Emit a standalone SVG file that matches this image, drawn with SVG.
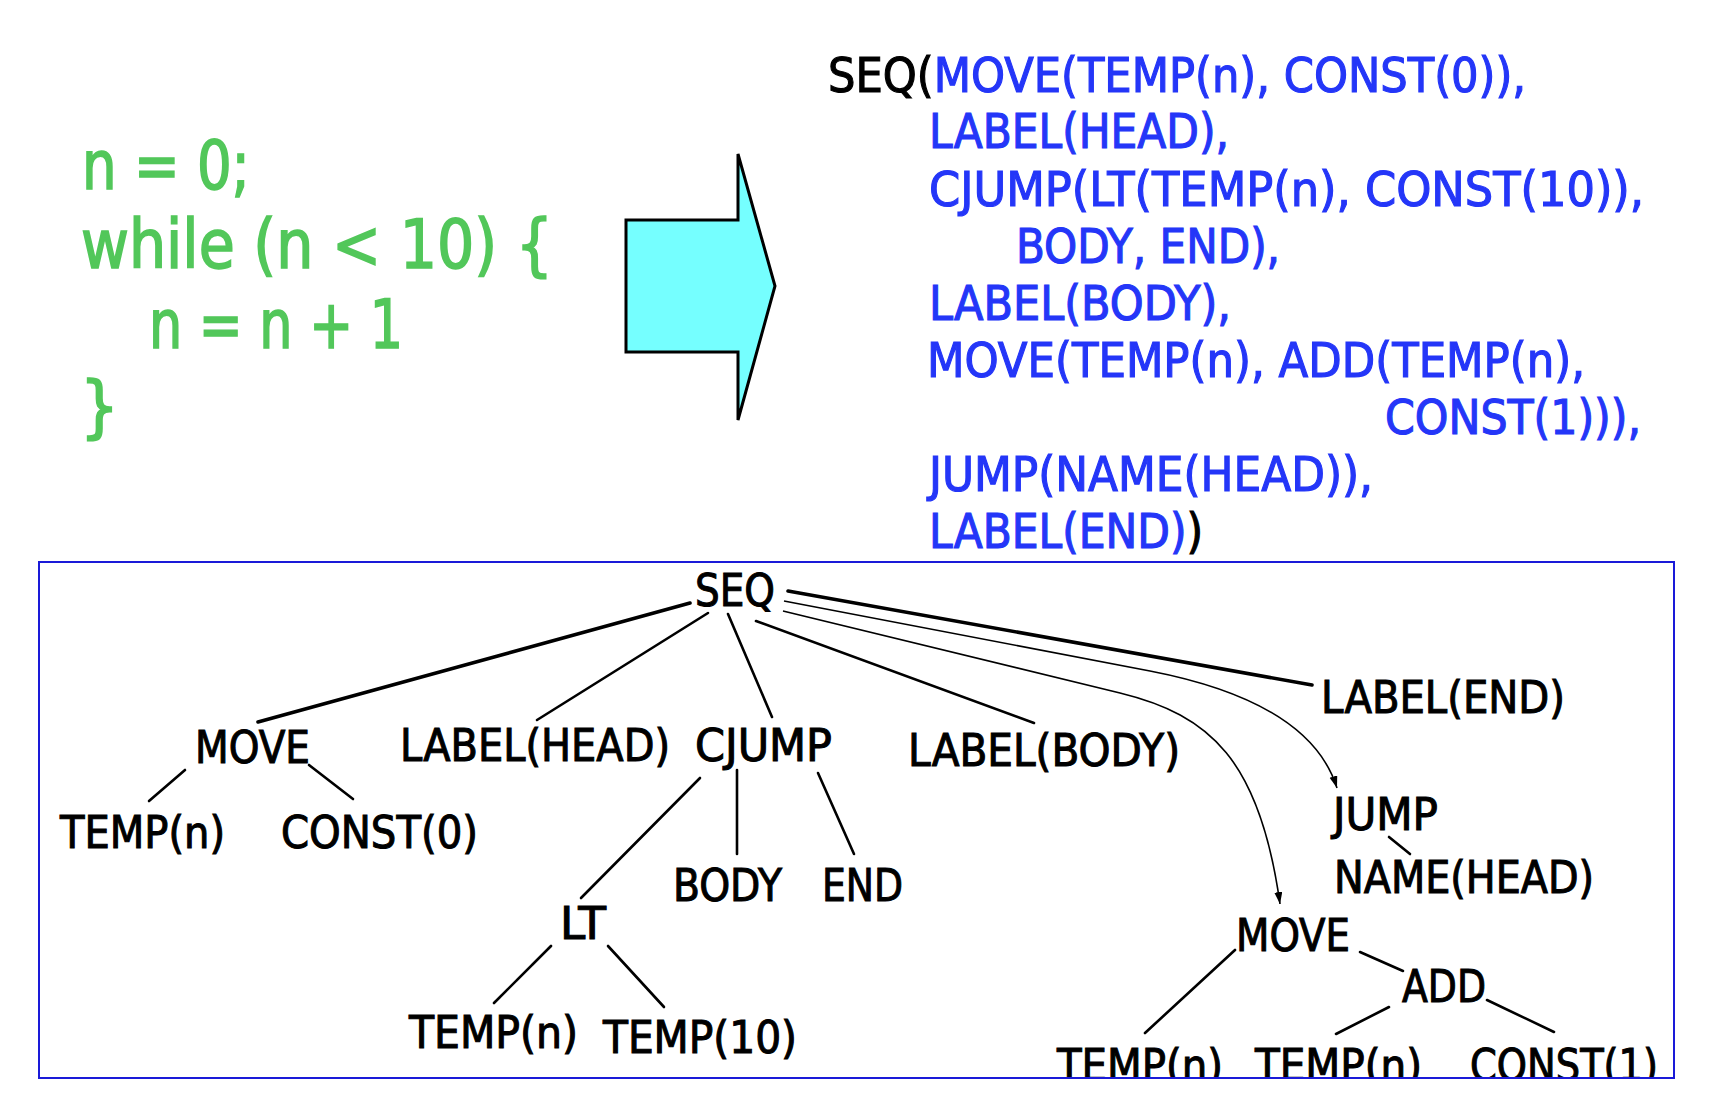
<svg xmlns="http://www.w3.org/2000/svg" width="1729" height="1115" viewBox="0 0 1729 1115">
<style>
text{font-family:"DejaVu Sans Condensed","DejaVu Sans","Liberation Sans",sans-serif;font-stretch:condensed;}
.code{fill:#52c75a;stroke:#52c75a;stroke-width:1.6;font-size:68px;}
.ir{fill:#2436f8;stroke:#2436f8;stroke-width:1.1;font-size:48px;}
.irk{fill:#000;stroke:#000;}
.t{fill:#000;stroke:#000;stroke-width:1;font-size:45px;}
.e{stroke:#000;stroke-width:2.6;fill:none;stroke-linecap:round;}
.ek{stroke-width:3.6;}
.ec{stroke:#000;stroke-width:1.6;fill:none;}
</style>
<defs>
<marker id="ah" markerUnits="userSpaceOnUse" markerWidth="14" markerHeight="10" refX="12" refY="4" orient="auto">
<path d="M0,0 L12,4 L0,8 z" fill="#000"/>
</marker>
<clipPath id="boxclip"><rect x="39" y="562" width="1635" height="515"/></clipPath>
</defs>
<rect width="1729" height="1115" fill="#fff"/>

<g id="source-code">
<text class="code" x="82" y="189" textLength="168" lengthAdjust="spacingAndGlyphs">n = 0;</text>
<text class="code" x="81" y="268" textLength="472" lengthAdjust="spacingAndGlyphs">while (n &lt; 10) {</text>
<text class="code" x="149" y="348" textLength="254" lengthAdjust="spacingAndGlyphs">n = n + 1</text>
<text class="code" x="80" y="430">}</text>
</g>

<g id="big-arrow">
<polygon points="626,220 738,220 738,154 775,286 738,420 738,352 626,352" fill="#75ffff" stroke="#000" stroke-width="3" stroke-linejoin="miter"/>
</g>

<g id="ir-code">
<text class="ir" x="828" y="92" textLength="698" lengthAdjust="spacingAndGlyphs"><tspan class="irk">SEQ(</tspan>MOVE(TEMP(n), CONST(0)),</text>
<text class="ir" x="929" y="148" textLength="300" lengthAdjust="spacingAndGlyphs">LABEL(HEAD),</text>
<text class="ir" x="929" y="206" textLength="715" lengthAdjust="spacingAndGlyphs">CJUMP(LT(TEMP(n), CONST(10)),</text>
<text class="ir" x="1016" y="263" textLength="264" lengthAdjust="spacingAndGlyphs">BODY, END),</text>
<text class="ir" x="929" y="320" textLength="302" lengthAdjust="spacingAndGlyphs">LABEL(BODY),</text>
<text class="ir" x="927" y="377" textLength="658" lengthAdjust="spacingAndGlyphs">MOVE(TEMP(n), ADD(TEMP(n),</text>
<text class="ir" x="1385" y="434" textLength="256" lengthAdjust="spacingAndGlyphs">CONST(1))),</text>
<text class="ir" x="929" y="491" textLength="444" lengthAdjust="spacingAndGlyphs">JUMP(NAME(HEAD)),</text>
<text class="ir" x="929" y="548" textLength="274" lengthAdjust="spacingAndGlyphs">LABEL(END)<tspan class="irk">)</tspan></text>
</g>

<g id="connectors">
<line class="e ek" x1="690" y1="603" x2="258" y2="722"/>
<line class="e" x1="708" y1="613" x2="537" y2="720"/>
<line class="e" x1="728" y1="614" x2="772" y2="717"/>
<line class="e" x1="756" y1="621" x2="1034" y2="723"/>
<line class="e ek" x1="788" y1="591" x2="1312" y2="685"/>
<path class="ec" d="M784,601 L1150,671 Q1310,702 1337,788" marker-end="url(#ah)"/>
<path class="ec" d="M783,611 L1120,693 C1210,715 1260,760 1280,904" marker-end="url(#ah)"/>
<line class="e" x1="185" y1="770" x2="149" y2="801"/>
<line class="e" x1="309" y1="765" x2="353" y2="799"/>
<line class="e" x1="700" y1="778" x2="581" y2="898"/>
<line class="e" x1="737" y1="770" x2="737" y2="854"/>
<line class="e" x1="818" y1="773" x2="854" y2="854"/>
<line class="e" x1="551" y1="946" x2="494" y2="1003"/>
<line class="e" x1="608" y1="946" x2="664" y2="1007"/>
<line class="e" x1="1389" y1="837" x2="1410" y2="854"/>
<line class="e" x1="1235" y1="950" x2="1145" y2="1033"/>
<line class="e" x1="1360" y1="952" x2="1403" y2="971"/>
<line class="e" x1="1389" y1="1007" x2="1336" y2="1034"/>
<line class="e" x1="1487" y1="1000" x2="1554" y2="1032"/>
</g>

<g id="n-seq"><text class="t" x="695" y="606" textLength="80" lengthAdjust="spacingAndGlyphs">SEQ</text></g>
<g id="n-move1"><text class="t" x="195" y="763" textLength="115" lengthAdjust="spacingAndGlyphs">MOVE</text></g>
<g id="n-labelhead"><text class="t" x="400" y="761" textLength="270" lengthAdjust="spacingAndGlyphs">LABEL(HEAD)</text></g>
<g id="n-cjump"><text class="t" x="695" y="761" textLength="137" lengthAdjust="spacingAndGlyphs">CJUMP</text></g>
<g id="n-labelbody"><text class="t" x="908" y="766" textLength="272" lengthAdjust="spacingAndGlyphs">LABEL(BODY)</text></g>
<g id="n-labelend"><text class="t" x="1321" y="713" textLength="244" lengthAdjust="spacingAndGlyphs">LABEL(END)</text></g>
<g id="n-temp1"><text class="t" x="60" y="848" textLength="165" lengthAdjust="spacingAndGlyphs">TEMP(n)</text></g>
<g id="n-const0"><text class="t" x="281" y="848" textLength="197" lengthAdjust="spacingAndGlyphs">CONST(0)</text></g>
<g id="n-body"><text class="t" x="673" y="901" textLength="109" lengthAdjust="spacingAndGlyphs">BODY</text></g>
<g id="n-end"><text class="t" x="822" y="901" textLength="81" lengthAdjust="spacingAndGlyphs">END</text></g>
<g id="n-lt"><text class="t" x="560" y="939" textLength="46" lengthAdjust="spacingAndGlyphs">LT</text></g>
<g id="n-temp2"><text class="t" x="409" y="1048" textLength="169" lengthAdjust="spacingAndGlyphs">TEMP(n)</text></g>
<g id="n-temp10"><text class="t" x="603" y="1053" textLength="194" lengthAdjust="spacingAndGlyphs">TEMP(10)</text></g>
<g id="n-jump"><text class="t" x="1333" y="830" textLength="105" lengthAdjust="spacingAndGlyphs">JUMP</text></g>
<g id="n-namehead"><text class="t" x="1334" y="893" textLength="260" lengthAdjust="spacingAndGlyphs">NAME(HEAD)</text></g>
<g id="n-move2"><text class="t" x="1236" y="951" textLength="114" lengthAdjust="spacingAndGlyphs">MOVE</text></g>
<g id="n-add"><text class="t" x="1402" y="1002" textLength="84" lengthAdjust="spacingAndGlyphs">ADD</text></g>
<g clip-path="url(#boxclip)">
<g id="n-temp3"><text class="t" x="1057" y="1081" textLength="166" lengthAdjust="spacingAndGlyphs">TEMP(n)</text></g>
<g id="n-temp4"><text class="t" x="1255" y="1081" textLength="167" lengthAdjust="spacingAndGlyphs">TEMP(n)</text></g>
<g id="n-const1"><text class="t" x="1470" y="1081" textLength="188" lengthAdjust="spacingAndGlyphs">CONST(1)</text></g>
</g>

<g id="tree-frame">
<rect x="39" y="562" width="1635" height="516" fill="none" stroke="#1a1ad8" stroke-width="2"/>
</g>
</svg>
